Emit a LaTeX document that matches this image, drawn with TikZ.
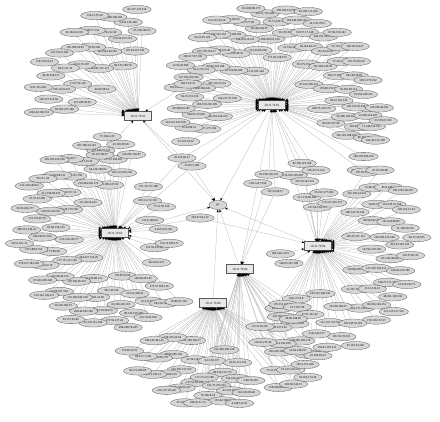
\documentclass[tikz,border=0pt]{standalone}
\usepackage{fontspec}
\setmainfont{Liberation Serif}
\usetikzlibrary{shapes.geometric,arrows.meta,calc}
\tikzset{
  leaf/.style={ellipse,draw=gray!70!black,fill=gray!32,line width=0.3pt,
    inner sep=0.3pt,minimum width=28.5pt,minimum height=8.3pt,
    font=\fontsize{3}{3.5}\selectfont},
  hub/.style={rectangle,draw=gray!70!black,fill=gray!18,line width=0.4pt,
    minimum width=27pt,minimum height=9pt,inner sep=0.8pt,
    font=\fontsize{3.2}{3.8}\selectfont},
  link/.style={draw=gray!60,line width=0.25pt,
    -{Stealth[length=2.8pt,width=2.2pt,color=black]}}
}
\begin{document}
\begin{tikzpicture}[x=1pt,y=1pt]
\useasboundingbox (0,0) rectangle (440,422);

% hosts
\node[hub] (A) at (138,306) {10.11.79.62};
\node[hub] (B) at (272,317) {10.11.79.61};
\node[hub] (C) at (115,189) {10.11.79.63};
\node[hub] (D) at (318,176) {10.11.79.64};
\node[hub] (E) at (240,153) {10.11.79.66};
\node[hub] (F) at (213,119) {10.11.79.60};
\node[leaf,minimum width=18pt,minimum height=9pt] (M) at (218,217) {gw};

% shared peers (centres)
\coordinate (P1) at (188,338);
\coordinate (P2) at (182,264);
\coordinate (P3) at (192,256);
\coordinate (P4) at (200,204);
\coordinate (P7) at (100,267);

\foreach \s/\t in {
P1/A,P1/B,P2/A,P2/B,P2/C,P3/B,P3/C,P3/M,
P4/C,P4/D,P7/A,P7/C,
A/M,B/M,C/M,D/M,E/M,F/M}
{
\draw[link] (\s) -- (\t);
}

% fans of peers: pass 1 links, pass 2 ellipses
\edef\nonetag{none}
\foreach \pass in {1,2}
{
\foreach \h/\x/\ra/\rb/\aa/\ab/\n/\s in {
A/none/35/110/84/180/28/1,
B/none/32/102/-25/205/70/2,
B/none/97/113/-40/5/6/3,
B/D/55/85/-80/-52/4/4,
B/E/55/90/-105/-85/3/5,
C/none/30/98/75/315/62/6,
C/none/30/58/-45/60/8/7,
D/none/30/102/-60/60/32/8,
D/none/30/55/60/110/4/9,
D/none/28/40/180/230/2/10,
D/none/35/112/-128/-62/18/11,
E/none/45/75/-55/-30/4/12,
F/none/30/105/-152/-100/16/13,
F/E/35/105/-100/-62/14/14,
F/E/70/122/-55/-25/9/15}
{
\edef\tmpx{\x}
\foreach \k in {1,...,\n}
{
\pgfmathsetmacro\ang{\aa+(\ab-\aa)*(\k*0.618034-floor(\k*0.618034))}
\pgfmathsetmacro\rad{\ra+(\rb-\ra)*sqrt((\k-0.5)/\n)}
\ifnum\pass=1
\coordinate (\h\s-\k) at ($(\h)+(\ang:\rad)$);
\draw[link] (\h\s-\k) -- (\h);
\ifx\tmpx\nonetag\else
\draw[link] (\h\s-\k) -- (\x);
\fi
\else
\pgfmathtruncatemacro\ipa{mod(\k*37+\s*11,223)+1}
\pgfmathtruncatemacro\ipb{mod(\k*53+\s*29,250)}
\pgfmathtruncatemacro\ipc{mod(\k*91+\s*7,250)}
\pgfmathtruncatemacro\ipd{mod(\k*17+\s*43,250)+1}
\node[leaf] (\h\s-\k) at ($(\h)+(\ang:\rad)$) {\ipa.\ipb.\ipc.\ipd};
\fi
}
}
}

% shared peers
\node[leaf] (P1) at (P1) {185.73.41.9};
\node[leaf] (P2) at (P2) {45.153.66.21};
\node[leaf] (P3) at (P3) {91.83.3.108};
\node[leaf] (P4) at (P4) {194.37.64.112};
\node[leaf] (P7) at (P7) {85.237.88.97};

\end{tikzpicture}
\end{document}
